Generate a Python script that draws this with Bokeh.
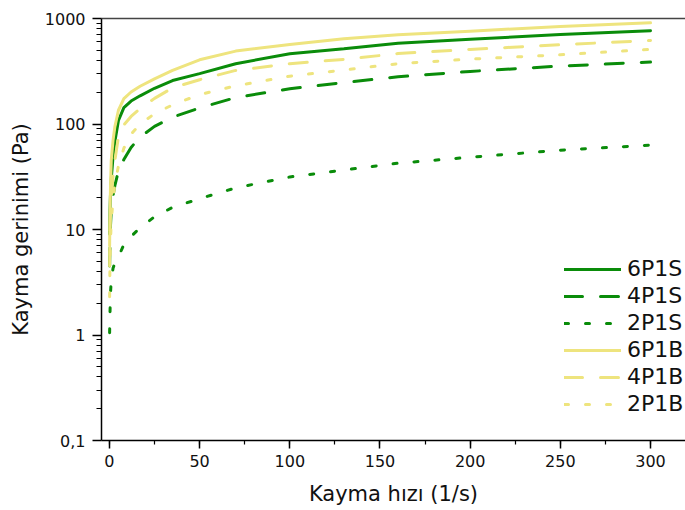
from bokeh.plotting import figure
from bokeh.models import (Range1d, LinearAxis, FixedTicker, SingleIntervalTicker,
                          CustomJSTickFormatter, Legend, LegendItem)
from bokeh.embed import file_html
from bokeh.resources import INLINE

# shear rate (1/s)
shear_rate = [0.1, 0.3, 0.6, 1, 2, 3, 5, 8, 12, 17, 25, 35, 50, 70, 100, 130, 160, 200, 250, 300]

# shear stress (Pa)
s6P1S = [9, 15, 22, 30, 49, 68, 108, 143, 165, 185, 218, 258, 300, 373, 464, 517, 584, 635, 705, 765]
s4P1S = [4.5, 7, 11, 15, 21, 26, 36, 46, 60, 75, 95, 116, 142, 178, 216, 247, 280, 315, 354, 386]
s2P1S = [1.05, 1.6, 2.5, 3.3, 4.3, 4.8, 5.5, 7.2, 8.6, 10.4, 13.2, 16.2, 19.6, 24.8, 31.5, 36.6, 42.5, 48.4, 56.5, 63]
s6P1B = [7, 14, 26, 45, 70, 94, 135, 174, 201, 228, 268, 322, 406, 491, 568, 643, 700, 759, 840, 910]
s4P1B = [4.5, 9, 14, 20, 32, 45, 76, 98, 118, 140, 175, 220, 263, 322, 373, 410, 465, 509, 564, 619]
s2P1B = [2.3, 5, 8, 12, 19, 27, 40, 59, 80, 100, 125, 152, 190, 230, 284, 325, 373, 412, 453, 509]

labels = ["6P1S", "4P1S", "2P1S", "6P1B", "4P1B", "2P1B"]
y_ticks = [0.1, 1, 10, 100, 1000]

GREEN = "#0a8c0a"
YELLOW = "#eee47e"
FONT = "DejaVu Sans"

p = figure(width=685, height=508, y_axis_type="log",
           x_range=Range1d(-4.4, 319.4), y_range=Range1d(0.1, 1000),
           output_backend="svg", toolbar_location=None,
           min_border_left=101, min_border_right=0, min_border_top=18, min_border_bottom=67)
p.grid.visible = False
p.outline_line_color = None
p.background_fill_color = "white"

series = [
    (s6P1S, GREEN, "solid"),
    (s4P1S, GREEN, "18 18"),
    (s2P1S, GREEN, "4 17"),
    (s6P1B, YELLOW, "solid"),
    (s4P1B, YELLOW, "18 18"),
    (s2P1B, YELLOW, "4 17"),
]
renderers = []
for ys, col, dash in series:
    r = p.line(shear_rate, ys, line_color=col, line_width=3, line_dash=dash, line_cap="round")
    renderers.append(r)

# x axis
xa = p.xaxis[0]
xa.ticker = SingleIntervalTicker(interval=50, num_minor_ticks=2)
xa.axis_label = "Kayma hızı (1/s)"
# y axis
ya = p.yaxis[0]
ya.ticker = FixedTicker(ticks=y_ticks,
                        minor_ticks=[m * 10.0 ** e for e in range(-1, 3) for m in range(2, 10)])
ya.formatter = CustomJSTickFormatter(code="""
    if (tick < 1) { return tick.toFixed(1).replace('.', ','); }
    return tick.toFixed(0);
""")
ya.axis_label = "Kayma gerinimi (Pa)"

for ax in (xa, ya):
    ax.axis_line_color = "black"
    ax.axis_line_width = 1.5
    ax.major_tick_line_color = "black"
    ax.minor_tick_line_color = "black"
    ax.major_tick_line_width = 1.5
    ax.minor_tick_line_width = 1.2
    ax.major_tick_in = 0
    ax.minor_tick_in = 0
    ax.major_label_text_font = FONT
    ax.major_label_text_font_size = "16px"
    ax.major_label_text_color = "#111111"
    ax.axis_label_text_font = FONT
    ax.axis_label_text_font_size = "21px"
    ax.axis_label_text_font_style = "normal"
    ax.axis_label_text_color = "#111111"

xa.major_tick_out = 8
xa.minor_tick_out = 4
xa.major_label_standoff = 6
xa.axis_label_standoff = 12
ya.major_tick_out = 9
ya.minor_tick_out = 5
ya.major_label_standoff = 7
ya.axis_label_standoff = 9

# top frame line
top = LinearAxis(ticker=FixedTicker(ticks=[]), major_tick_out=0, major_tick_in=0,
                 minor_tick_out=0, minor_tick_in=0, major_label_text_font_size="0px",
                 axis_line_color="#444444", axis_line_width=1.5)
p.add_layout(top, "above")

legend = Legend(items=[LegendItem(label=l, renderers=[r]) for l, r in zip(labels, renderers)],
                location=(463, 24), padding=0, margin=0, spacing=2,
                glyph_width=57, glyph_height=24, label_height=24, label_standoff=6,
                label_text_font=FONT, label_text_font_size="22px", label_text_color="#111111",
                border_line_color=None, background_fill_alpha=0)
p.add_layout(legend)

open("out.html", "w").write(file_html(p, INLINE))
